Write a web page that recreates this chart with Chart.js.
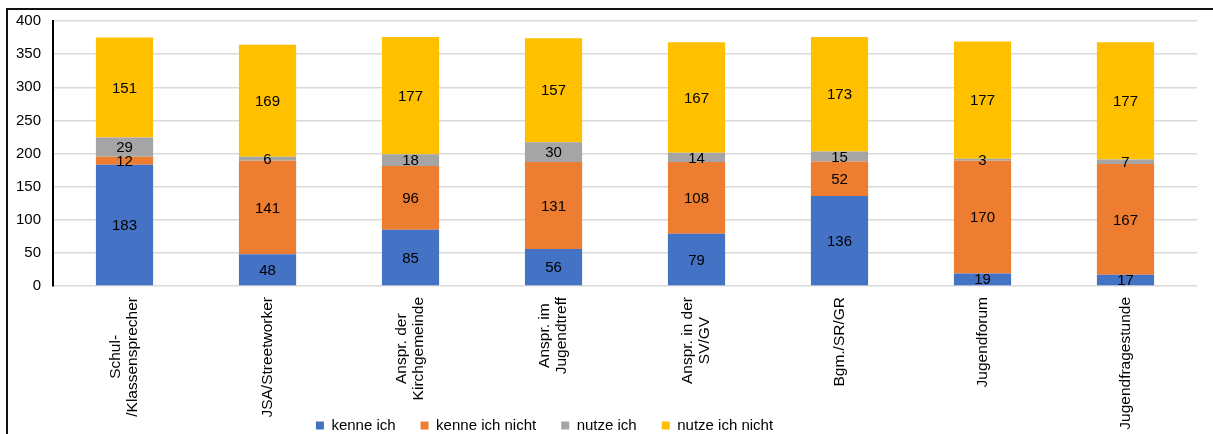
<!DOCTYPE html>
<html>
<head>
<meta charset="utf-8">
<script src="https://cdn.jsdelivr.net/npm/chart.js@4.4.1/dist/chart.umd.min.js"></script>
<style>
  html, body { margin: 0; padding: 0; background: #fff; overflow: hidden; }
  #wrap { position: relative; width: 1213px; height: 434px; }
  #wrap canvas { position: absolute; left: 0; top: 0; }
  #frame { position: absolute; left: 6px; top: 8px; width: 1300px; height: 500px; border: 2px solid #111; pointer-events: none; }
</style>
</head>
<body>
<div id="wrap">
  <canvas id="angebote" width="1213" height="434"></canvas>
  <div id="frame"></div>
</div>
<script>
const categories = [
  ['Schul-', '/Klassensprecher'],
  ['JSA/Streetworker'],
  ['Anspr. der', 'Kirchgemeinde'],
  ['Anspr. im', 'Jugendtreff'],
  ['Anspr. in der', 'SV/GV'],
  ['Bgm./SR/GR'],
  ['Jugendforum'],
  ['Jugendfragestunde']
];
const kenneIch = [183, 48, 85, 56, 79, 136, 19, 17];
const kenneIchNicht = [12, 141, 96, 131, 108, 52, 170, 167];
const nutzeIch = [29, 6, 18, 30, 14, 15, 3, 7];
const nutzeIchNicht = [151, 169, 177, 157, 167, 173, 177, 177];
const yMax = 400;
const yStep = 50;

const FONT = "'Liberation Sans', Arial, sans-serif";
Chart.defaults.font.family = FONT;
Chart.defaults.font.size = 15;
Chart.defaults.color = '#000';

// numbers in the middle of each segment
const segmentLabels = {
  id: 'segmentLabels',
  afterDatasetsDraw(chart) {
    const ctx = chart.ctx;
    ctx.save();
    ctx.font = '15px ' + FONT;
    ctx.fillStyle = '#000';
    ctx.textAlign = 'center';
    ctx.textBaseline = 'middle';
    chart.data.datasets.forEach((ds, i) => {
      chart.getDatasetMeta(i).data.forEach((bar, j) => {
        const p = bar.getProps(['x', 'y', 'base'], true);
        ctx.fillText(ds.data[j], p.x, (p.y + p.base) / 2 + 1);
      });
    });
    ctx.restore();
  }
};

// vertical category labels, longest line ends just below the axis
const categoryLabels = {
  id: 'categoryLabels',
  afterDraw(chart) {
    const ctx = chart.ctx;
    const xs = chart.scales.x;
    const top = chart.chartArea.bottom + 11;
    const lineH = 17;
    ctx.save();
    ctx.font = '15.5px ' + FONT;
    ctx.fillStyle = '#000';
    ctx.textAlign = 'center';
    ctx.textBaseline = 'middle';
    categories.forEach((lines, j) => {
      const w = Math.max(...lines.map(l => ctx.measureText(l).width));
      ctx.save();
      ctx.translate(xs.getPixelForValue(j), top + w / 2);
      ctx.rotate(-Math.PI / 2);
      lines.forEach((l, i) => ctx.fillText(l, 0, (i - (lines.length - 1) / 2) * lineH));
      ctx.restore();
    });
    ctx.restore();
  }
};

// legend sits a bit left of centre and low at the bottom edge
const legendPlacement = {
  id: 'legendPlacement',
  afterLayout(chart) {
    const lg = chart.legend;
    lg.left -= 56; lg.right -= 56;
    lg.top += 9; lg.bottom += 9;
  }
};

new Chart('angebote', {
  type: 'bar',
  data: {
    labels: categories,
    datasets: [
      { label: 'kenne ich', data: kenneIch, backgroundColor: '#4472C4' },
      { label: 'kenne ich nicht', data: kenneIchNicht, backgroundColor: '#ED7D31' },
      { label: 'nutze ich', data: nutzeIch, backgroundColor: '#A5A5A5' },
      { label: 'nutze ich nicht', data: nutzeIchNicht, backgroundColor: '#FFC000' }
    ]
  },
  options: {
    responsive: false,
    animation: false,
    devicePixelRatio: 1,
    layout: { padding: { left: 4, right: 16, top: 20, bottom: 0 } },
    datasets: { bar: { barPercentage: 0.4, categoryPercentage: 1 } },
    plugins: {
      legend: {
        position: 'bottom',
        labels: { boxWidth: 8, boxHeight: 8, padding: 25, font: { size: 15 }, color: '#000' }
      },
      tooltip: { enabled: false }
    },
    scales: {
      x: {
        stacked: true,
        grid: { display: false },
        border: { display: false },
        ticks: { display: false },
        afterFit(scale) { scale.height = 98; }
      },
      y: {
        stacked: true,
        min: 0,
        max: yMax,
        ticks: { stepSize: yStep, padding: 12, color: '#000', font: { size: 15 } },
        grid: { color: '#d9d9d9', lineWidth: 1.5, drawTicks: false },
        border: { color: '#000', width: 2 }
      }
    }
  },
  plugins: [segmentLabels, categoryLabels, legendPlacement]
});
</script>
</body>
</html>
